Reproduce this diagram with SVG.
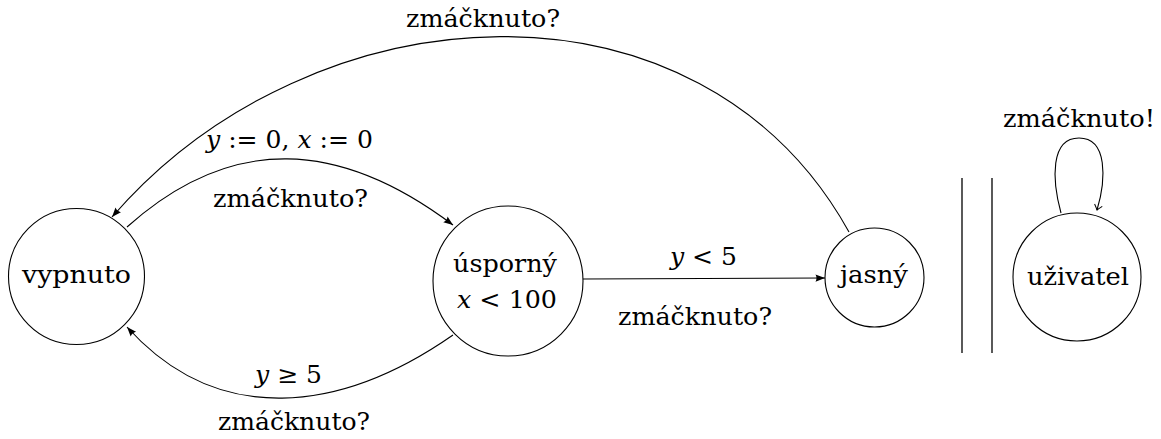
<svg xmlns="http://www.w3.org/2000/svg" width="1161" height="439" viewBox="0 0 1161 439">
<style>
.node { fill: #ffffff; stroke: #000000; stroke-width: 1.1; }
.edge { fill: none; stroke: #000000; stroke-width: 1.1; }
.bar { fill: none; stroke: #000000; stroke-width: 1.3; }
.t { font-family: 'DejaVu Serif', 'Liberation Serif', serif; font-size: 24px; fill: #000000; }
.m { font-style: italic; }
</style>
<defs>
<marker id="tip" markerUnits="userSpaceOnUse" markerWidth="14" markerHeight="12" viewBox="-11 -6 12 12" refX="0" refY="0" orient="auto">
<path d="M0,0 L-9.5,-3.6 Q-7.5,0 -9.5,3.6 Z" fill="#000000"/>
</marker>
<marker id="open" markerUnits="userSpaceOnUse" markerWidth="12" markerHeight="12" viewBox="-8 -6 10 12" refX="0" refY="0" orient="auto">
<path d="M-5,-4 Q-1.5,-1 0,0 Q-1.5,1 -5,4" fill="none" stroke="#000000" stroke-width="1"/>
</marker>
</defs>

<g id="connectors">
<path class="edge" d="M849,232 C700,-37 313,-15 112,217" marker-end="url(#tip)"/>
<path class="edge" d="M127,227 C232,133 340,140 453,225" marker-end="url(#tip)"/>
<path class="edge" d="M453,335 C341,413 218,428 127,327" marker-end="url(#tip)"/>
<path class="edge" d="M583,279 L825,278" marker-end="url(#tip)"/>
<path class="edge" d="M1061,213 C1052,180 1050,138 1079,138 C1108,138 1106,180 1097,210" marker-end="url(#open)"/>
<text class="t" x="406" y="27" textLength="154" lengthAdjust="spacingAndGlyphs">zmáčknuto?</text>
<text class="t" x="206" y="148" textLength="167" lengthAdjust="spacingAndGlyphs"><tspan class="m">y</tspan> := 0, <tspan class="m">x</tspan> := 0</text>
<text class="t" x="213" y="207" textLength="155" lengthAdjust="spacingAndGlyphs">zmáčknuto?</text>
<text class="t" x="255" y="383" textLength="67" lengthAdjust="spacingAndGlyphs"><tspan class="m">y</tspan> ≥ 5</text>
<text class="t" x="218" y="430" textLength="152" lengthAdjust="spacingAndGlyphs">zmáčknuto?</text>
<text class="t" x="670" y="265" textLength="67" lengthAdjust="spacingAndGlyphs"><tspan class="m">y</tspan> &lt; 5</text>
<text class="t" x="618" y="325" textLength="154" lengthAdjust="spacingAndGlyphs">zmáčknuto?</text>
<text class="t" x="1003" y="127" textLength="152" lengthAdjust="spacingAndGlyphs">zmáčknuto!</text>
</g>

<g id="vypnuto">
<circle class="node" cx="76.5" cy="276.5" r="68"/>
<text class="t" x="22" y="283" textLength="109" lengthAdjust="spacingAndGlyphs">vypnuto</text>
</g>

<g id="usporny">
<circle class="node" cx="508" cy="281" r="75"/>
<text class="t" x="453" y="272" textLength="104" lengthAdjust="spacingAndGlyphs">úsporný</text>
<text class="t" x="457" y="308" textLength="100" lengthAdjust="spacingAndGlyphs"><tspan class="m">x</tspan> &lt; 100</text>
</g>

<g id="jasny">
<circle class="node" cx="874.5" cy="277.5" r="49.5"/>
<text class="t" x="840" y="283" textLength="68" lengthAdjust="spacingAndGlyphs">jasný</text>
</g>

<g id="parallel">
<line class="bar" x1="962" y1="178" x2="962" y2="353"/>
<line class="bar" x1="992" y1="178" x2="992" y2="353"/>
</g>

<g id="uzivatel">
<circle class="node" cx="1077" cy="277" r="64"/>
<text class="t" x="1027" y="285" textLength="102" lengthAdjust="spacingAndGlyphs">uživatel</text>
</g>
</svg>
